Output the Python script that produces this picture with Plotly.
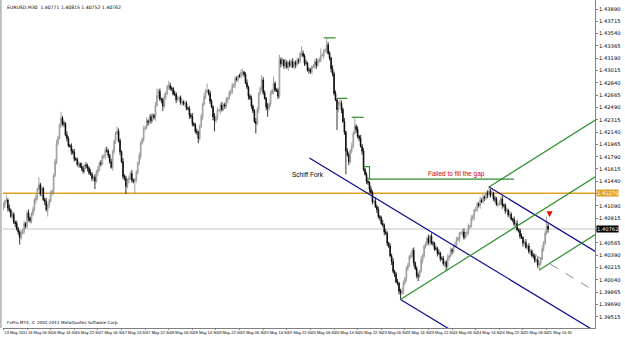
import plotly.graph_objects as go

# ---------------- data (EURUSD M30) ----------------
close = [
1.4110,1.4116,1.4117,1.4106,1.4103,1.4094,1.4097,1.4086,1.4084,1.4076,
1.4072,1.4064,1.4070,1.4073,1.4084,1.4080,1.4099,1.4092,1.4088,1.4097,
1.4104,1.4117,1.4121,1.4133,1.4139,1.4126,1.4134,1.4118,1.4115,1.4104,
1.4110,1.4116,1.4127,1.4130,1.4152,1.4172,1.4198,1.4206,1.4224,1.4234,
1.4226,1.4226,1.4210,1.4205,1.4195,1.4194,1.4187,1.4185,1.4176,1.4175,
1.4168,1.4169,1.4165,1.4163,1.4158,1.4167,1.4166,1.4163,1.4156,1.4154,
1.4148,1.4150,1.4144,1.4157,1.4161,1.4170,1.4169,1.4179,1.4180,1.4188,
1.4187,1.4181,1.4172,1.4164,1.4186,1.4201,1.4212,1.4215,1.4202,1.4186,
1.4172,1.4151,1.4148,1.4137,1.4146,1.4148,1.4155,1.4146,1.4144,1.4146,
1.4156,1.4170,1.4180,1.4198,1.4204,1.4219,1.4220,1.4230,1.4228,1.4236,
1.4230,1.4238,1.4235,1.4252,1.4266,1.4272,1.4261,1.4260,1.4251,1.4264,
1.4269,1.4279,1.4280,1.4276,1.4276,1.4268,1.4268,1.4260,1.4262,1.4263,
1.4256,1.4257,1.4254,1.4255,1.4248,1.4247,1.4238,1.4236,1.4226,1.4224,
1.4215,1.4214,1.4205,1.4222,1.4236,1.4254,1.4265,1.4272,1.4273,1.4269,
1.4258,1.4250,1.4236,1.4230,1.4235,1.4245,1.4245,1.4252,1.4246,1.4253,
1.4251,1.4260,1.4262,1.4270,1.4271,1.4279,1.4281,1.4290,1.4289,1.4294,
1.4293,1.4299,1.4299,1.4296,1.4284,1.4278,1.4265,1.4262,1.4251,1.4244,
1.4229,1.4226,1.4246,1.4269,1.4276,1.4288,1.4270,1.4262,1.4250,1.4248,
1.4254,1.4269,1.4273,1.4283,1.4274,1.4273,1.4265,1.4317,1.4311,1.4316,
1.4308,1.4313,1.4306,1.4313,1.4309,1.4314,1.4307,1.4313,1.4310,1.4316,
1.4315,1.4326,1.4326,1.4322,1.4312,1.4312,1.4302,1.4302,1.4300,1.4307,
1.4307,1.4314,1.4309,1.4316,1.4316,1.4323,1.4323,1.4330,1.4330,1.4338,
1.4326,1.4319,1.4304,1.4297,1.4269,1.4260,1.4246,1.4255,1.4255,1.4246,
1.4229,1.4214,1.4187,1.4182,1.4172,1.4188,1.4194,1.4212,1.4222,1.4218,
1.4208,1.4205,1.4194,1.4187,1.4161,1.4154,1.4144,1.4142,1.4133,1.4128,
1.4115,1.4116,1.4108,1.4104,1.4094,1.4092,1.4084,1.4082,1.4072,1.4070,
1.4056,1.4052,1.4038,1.4030,1.4016,1.4012,1.4001,1.3999,1.3988,1.3985,
1.3988,1.3999,1.4006,1.4020,1.4024,1.4037,1.4038,1.4046,1.4028,1.4020,
1.4010,1.4009,1.4016,1.4032,1.4038,1.4052,1.4054,1.4063,1.4057,1.4066,
1.4056,1.4056,1.4048,1.4048,1.4042,1.4042,1.4034,1.4034,1.4027,1.4029,
1.4023,1.4035,1.4038,1.4046,1.4045,1.4052,1.4053,1.4062,1.4062,1.4070,
1.4070,1.4072,1.4064,1.4070,1.4071,1.4080,1.4080,1.4091,1.4094,1.4103,
1.4104,1.4112,1.4110,1.4117,1.4115,1.4122,1.4120,1.4127,1.4125,1.4130,
1.4125,1.4127,1.4119,1.4119,1.4111,1.4112,1.4112,1.4119,1.4110,1.4110,
1.4102,1.4103,1.4096,1.4097,1.4090,1.4090,1.4083,1.4084,1.4075,1.4074,
1.4066,1.4064,1.4056,1.4057,1.4050,1.4052,1.4044,1.4045,1.4038,1.4038,
1.4031,1.4032,1.4025,1.4027,1.4034,1.4048,1.4056,1.4070,1.4080,1.4076,
]
first_open = 1.4106

# wick lengths in pips above the body / below the body
up_wick_pips = [
4,2,7,3,5,2,4,3,2,4,3,2,5,3,4,2,3,5,2,3,
4,3,5,2,11,3,4,2,3,5,2,3,4,2,3,4,5,3,2,9,
3,4,2,5,3,2,4,3,5,2,3,4,2,5,3,2,4,3,2,5,
3,2,4,3,5,2,4,3,2,4,5,3,2,4,3,2,3,7,4,3,
2,5,3,4,2,4,3,5,2,3,4,2,5,3,2,4,3,5,2,3,
4,3,2,5,10,3,4,2,3,5,3,2,7,4,3,2,5,3,4,2,
3,5,2,4,3,2,4,3,5,2,3,4,2,3,4,2,5,3,10,2,
4,3,2,5,3,4,2,3,5,2,3,4,2,3,4,5,2,4,3,2,
3,4,5,2,3,5,2,3,4,2,3,5,4,2,3,7,4,3,2,5,
3,4,2,10,3,2,4,7,3,4,2,5,3,2,4,3,5,2,3,4,
3,2,10,4,3,5,2,4,3,2,4,3,5,2,4,10,3,2,4,10,
4,3,2,5,3,4,2,3,6,4,3,5,2,4,3,2,5,3,12,3,
4,2,5,3,4,2,3,5,2,4,3,2,5,3,4,2,3,5,2,4,
3,2,4,3,5,2,3,4,2,3,5,4,2,3,4,2,5,3,4,2,
3,4,2,5,3,2,4,3,5,2,4,3,2,4,3,5,2,3,4,2,
3,5,2,4,3,2,5,3,4,2,3,4,5,2,3,4,2,5,3,2,
4,3,2,5,3,4,2,3,4,7,3,5,2,4,3,2,5,3,4,2,
3,4,2,5,3,2,4,3,5,2,3,4,2,3,5,2,4,3,2,4,
3,2,4,3,2,5,3,4,14,3,
]
low_wick_pips = [
3,4,2,5,3,2,4,3,5,2,4,10,3,2,4,3,2,5,3,4,
2,3,5,4,2,3,4,2,5,3,10,4,2,3,5,2,4,3,2,4,
3,5,2,4,3,2,5,3,4,2,3,5,2,4,3,2,4,5,3,2,
4,3,11,2,5,3,4,2,3,5,2,4,3,2,5,3,4,2,3,5,
2,4,3,11,3,5,2,4,3,17,4,2,3,5,2,4,3,2,5,3,
4,2,3,5,2,4,3,5,7,3,4,2,5,3,4,2,3,5,2,4,
3,5,2,4,3,2,5,3,4,2,3,4,7,3,2,5,3,4,2,3,
4,2,5,15,3,4,2,5,3,2,4,3,5,2,4,3,2,5,3,4,
2,3,5,4,2,3,5,2,4,3,2,14,3,5,2,4,3,2,5,12,
3,4,2,5,3,2,4,3,5,2,4,3,2,5,3,4,2,3,5,2,
4,3,5,2,4,3,2,5,3,4,2,3,5,2,4,3,2,5,3,4,
2,3,5,4,3,2,29,4,3,5,2,4,33,3,5,2,4,3,2,5,
3,4,2,5,3,2,4,3,5,2,4,3,2,5,3,4,2,3,5,2,
4,3,2,5,3,4,2,3,5,9,3,4,2,5,3,2,4,3,5,2,
4,7,3,2,5,3,4,2,3,5,2,4,3,2,5,3,4,2,3,5,
7,3,4,2,5,3,2,4,3,5,2,4,3,2,5,3,4,2,3,5,
2,4,3,5,2,3,4,2,5,3,4,2,3,5,2,4,3,2,5,3,
4,2,3,5,2,4,3,5,2,3,4,2,5,3,2,4,3,5,2,4,
3,2,4,7,3,2,4,3,2,5,
]

time_tick_bars = [0,16,32,48,64,80,96,112,128,144,160,176,192,208,224,240,
                  256,272,288,304,320,336,352,368]
time_labels = ["13 May 2011","16 May 06:30","16 May 14:30","16 May 22:30",
               "17 May 06:30","17 May 14:30","17 May 22:30","18 May 06:30",
               "18 May 14:30","18 May 22:30","19 May 06:30","19 May 14:30",
               "19 May 22:30","20 May 06:30","20 May 14:30","20 May 22:30",
               "23 May 06:30","23 May 14:30","23 May 22:30","24 May 06:30",
               "24 May 14:30","24 May 22:30","25 May 06:30","25 May 14:30"]

price_ticks = [1.43890,1.43715,1.43540,1.43365,1.43190,1.43015,1.42840,
               1.42665,1.42490,1.42315,1.42140,1.41965,1.41790,1.41615,
               1.41440,1.41265,1.41090,1.40915,1.40740,1.40565,1.40390,
               1.40215,1.40040,1.39865,1.39690,1.39515]

title_text = "EURUSD,M30  1.40771 1.40815 1.40752 1.40762"
copyright_text = "FxPro MT4, © 2001-2011 MetaQuotes Software Corp."
bid_price = 1.40762
orange_level = 1.41270

# drawn objects (bar index, price)
navy_median = ([207.3, 402.0], [1.41771, 1.39293])
navy_upper = ([329.0, 402.0], [1.41360, 1.40431])
navy_lower = ([269.0, 320.0], [1.39760, 1.39111])
navy_dashed = ([360.0, 402.0], [1.40396, 1.39862])
green_median = ([269.0, 402.0], [1.39760, 1.41518])
green_upper = ([329.0, 402.0], [1.41360, 1.42325])
green_lower = ([363.0, 402.0], [1.40180, 1.40696])
green_marks_x = [217, 225, None, 226, 233, None, 236, 244, None, 244, 248, 248, 346]
green_marks_y = [1.4348, 1.4348, None, 1.4262, 1.4262, None, 1.4235, 1.4235, None,
                 1.4165, 1.4165, 1.4147, 1.4147]
red_arrow = ([370.0], [1.40930])
notes = [("Schiff Fork", 206.6, 1.41530, "#000000"),
         ("Failed to fill the gap", 307.0, 1.41544, "#cc0000")]

# ---------------- build ----------------
assert len(close) == len(up_wick_pips) == len(low_wick_pips)
bars = list(range(len(close)))
opens = [first_open] + close[:-1]
highs = [max(o, c) + w * 0.0001 for o, c, w in zip(opens, close, up_wick_pips)]
lows = [min(o, c) - w * 0.0001 for o, c, w in zip(opens, close, low_wick_pips)]

fig = go.Figure()
fig.add_trace(go.Candlestick(
    x=bars, open=opens, high=highs, low=lows, close=close,
    increasing=dict(line=dict(color="#8a8a8a", width=0.8), fillcolor="#ffffff"),
    decreasing=dict(line=dict(color="#000000", width=0.8), fillcolor="#000000"),
    whiskerwidth=0, hoverinfo="skip", showlegend=False))

def seg(xy, color, width=1.2, dash="solid"):
    fig.add_trace(go.Scatter(x=xy[0], y=xy[1], mode="lines",
                             line=dict(color=color, width=width, dash=dash),
                             hoverinfo="skip", showlegend=False))

NAVY = "#0a0a8c"
GREEN = "#2f8f2f"
seg(navy_median, NAVY)
seg(navy_upper, NAVY)
seg(navy_lower, NAVY)
seg(navy_dashed, "#8a8aa8", 1, "dash")
seg(green_median, GREEN)
seg(green_upper, GREEN)
seg(green_lower, GREEN)
seg((green_marks_x, green_marks_y), GREEN)

fig.add_trace(go.Scatter(x=red_arrow[0], y=red_arrow[1], mode="markers",
                         marker=dict(symbol="arrow-down", size=6, color="#e01010"),
                         hoverinfo="skip", showlegend=False))

fig.add_hline(y=bid_price, line=dict(color="#c4c4c4", width=1), layer="below")
fig.add_hline(y=orange_level, line=dict(color="#e0a020", width=1.5), layer="below")

for txt, xv, yv, col in notes:
    fig.add_annotation(x=xv, y=yv, text=txt, showarrow=False,
                       font=dict(family="Liberation Sans, Arial", size=6.5, color=col))

fig.add_annotation(xref="paper", yref="paper", x=0.004, y=1, yshift=-3,
                   xanchor="left", yanchor="top", text=title_text, showarrow=False,
                   font=dict(family="DejaVu Sans", size=4.6, color="#000000"))
fig.add_annotation(xref="paper", yref="paper", x=0.004, y=0, yshift=1,
                   xanchor="left", yanchor="bottom", text=copyright_text, showarrow=False,
                   font=dict(family="DejaVu Sans", size=4.2, color="#000000"))

box_levels = [(bid_price, "#000000"), (orange_level, "#e0a020")]
for val, bg in box_levels:
    fig.add_annotation(xref="paper", yref="y", x=1, y=val, xanchor="left",
                       text=f"{val:.5f}", showarrow=False, bgcolor=bg, borderpad=0,
                       xshift=1, font=dict(family="DejaVu Sans", size=5.2, color="#ffffff"))

# tick labels hidden under the price boxes (as in the terminal)
price_ticktext = ["" if any(abs(v - b) < 0.0007 for b, _ in box_levels) else f"{v:.5f}"
                  for v in price_ticks]

# left window border
fig.add_shape(type="rect", xref="paper", yref="paper", x0=-0.006, x1=-0.002,
              y0=0, y1=1, fillcolor="#bdbdbd", line=dict(width=0))

fig.update_layout(
    width=625, height=339, margin=dict(l=3, r=30, t=0, b=11),
    paper_bgcolor="#ffffff", plot_bgcolor="#ffffff",
    xaxis=dict(range=[-0.3, 400.8], tickvals=time_tick_bars, ticktext=time_labels,
               ticklabelposition="outside right", tickangle=0, ticks="outside", ticklen=1,
               tickcolor="#808080",
               tickfont=dict(family="Liberation Sans Narrow, Liberation Sans", size=4.0,
                             color="#000"),
               showline=True, linecolor="#808080", linewidth=1, showgrid=False,
               zeroline=False, rangeslider=dict(visible=False), automargin=False,
               fixedrange=True),
    yaxis=dict(side="right", range=[1.39354, 1.44018], tickvals=price_ticks,
               ticktext=price_ticktext, ticks="outside", ticklen=2,
               tickcolor="#808080", tickfont=dict(family="DejaVu Sans", size=5.2, color="#000"),
               showline=True, linecolor="#808080", linewidth=1, showgrid=False,
               zeroline=False, automargin=False, fixedrange=True),
)

fig.write_html("out.html")
